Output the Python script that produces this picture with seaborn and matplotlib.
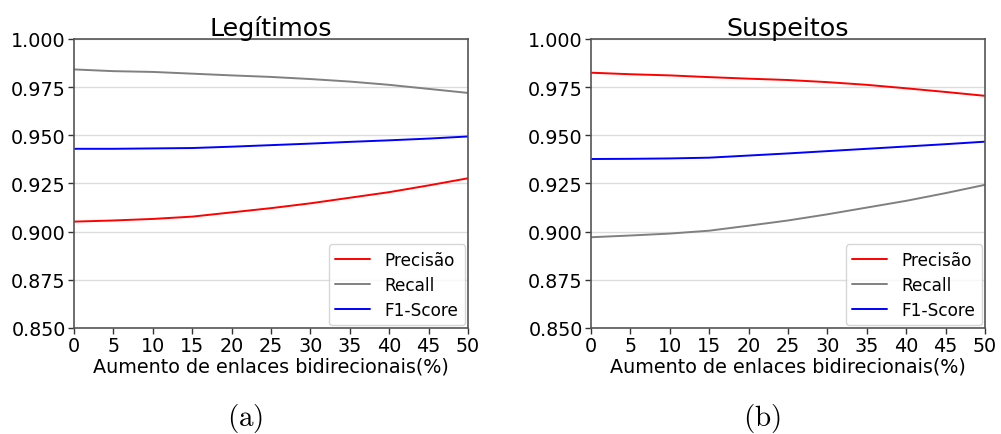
import matplotlib
matplotlib.use("Agg")
import matplotlib.pyplot as plt
import seaborn as sns
import pandas as pd

# Percentage increase of bidirectional links
aumento = [0, 5, 10, 15, 20, 25, 30, 35, 40, 45, 50]

# Legítimos
leg_precisao = [0.9052, 0.9058, 0.9066, 0.9078, 0.9100, 0.9122, 0.9147, 0.9176, 0.9205, 0.9240, 0.9277]
leg_recall = [0.9842, 0.9833, 0.9829, 0.9820, 0.9811, 0.9803, 0.9792, 0.9779, 0.9762, 0.9741, 0.9720]
leg_f1 = [0.9430, 0.9430, 0.9432, 0.9434, 0.9441, 0.9449, 0.9457, 0.9466, 0.9474, 0.9483, 0.9494]

# Suspeitos
sus_precisao = [0.9825, 0.9817, 0.9811, 0.9802, 0.9794, 0.9787, 0.9776, 0.9762, 0.9744, 0.9725, 0.9705]
sus_recall = [0.8971, 0.8980, 0.8990, 0.9005, 0.9031, 0.9058, 0.9090, 0.9125, 0.9160, 0.9200, 0.9243]
sus_f1 = [0.9377, 0.9378, 0.9380, 0.9384, 0.9395, 0.9406, 0.9418, 0.9430, 0.9442, 0.9454, 0.9467]

metricas = ["Precisão", "Recall", "F1-Score"]
cores = {"Precisão": "#ff0000", "Recall": "#808080", "F1-Score": "#0000ff"}
y_ticks = [0.850, 0.875, 0.900, 0.925, 0.950, 0.975, 1.000]
x_ticks = aumento

sns.set_style("whitegrid")
plt.rcParams["font.family"] = ["DejaVu Sans"]
plt.rcParams["mathtext.fontset"] = "cm"
plt.rcParams["text.color"] = "black"
plt.rcParams["axes.labelcolor"] = "black"
plt.rcParams["xtick.color"] = "black"
plt.rcParams["ytick.color"] = "black"


def long_form(prec, rec, f1):
    rows = []
    for nome, vals in zip(metricas, [prec, rec, f1]):
        for x, v in zip(aumento, vals):
            rows.append({"aumento": x, "valor": v, "metrica": nome})
    return pd.DataFrame(rows)


fig = plt.figure(figsize=(10.01, 4.35), dpi=100)
ax1 = fig.add_axes([0.0739, 0.2437, 0.3936, 0.6644])
ax2 = fig.add_axes([0.5904, 0.2437, 0.3936, 0.6644])

paineis = [
    (ax1, "Legítimos", long_form(leg_precisao, leg_recall, leg_f1), "(a)"),
    (ax2, "Suspeitos", long_form(sus_precisao, sus_recall, sus_f1), "(b)"),
]

for ax, titulo, df, rotulo in paineis:
    sns.lineplot(data=df, x="aumento", y="valor", hue="metrica", hue_order=metricas,
                 palette=cores, linewidth=1.4, ax=ax)
    ax.set_xlim(0, 50)
    ax.set_ylim(0.85, 1.0)
    ax.set_xticks(x_ticks)
    ax.set_yticks(y_ticks)
    ax.set_yticklabels([f"{t:.3f}" for t in y_ticks])
    ax.tick_params(axis="both", labelsize=13.8, length=4, width=1, color="#333333",
                   pad=2, direction="out", left=True, bottom=True, labelcolor="black")
    ax.grid(axis="x", visible=False)
    ax.grid(axis="y", color="#dddddd", linewidth=1)
    for s in ax.spines.values():
        s.set_color("#555555")
        s.set_linewidth(1.2)
    ax.set_title(titulo, fontsize=18.3, pad=3, color="black")
    ax.set_xlabel("Aumento de enlaces bidirecionais(%)", fontsize=13.8, labelpad=1)
    ax.set_ylabel("")
    leg = ax.legend(loc="lower right", fontsize=12.2, handlelength=2.07, handletextpad=0.85,
                    borderpad=0.4, labelspacing=0.4, frameon=True, fancybox=True,
                    borderaxespad=0.15)
    leg.get_frame().set_edgecolor("#cccccc")
    for line in leg.get_lines():
        line.set_linewidth(1.4)
    for t in leg.get_texts():
        t.set_color("black")
    bbox = ax.get_position()
    fig.text(bbox.x0 + bbox.width / 2 - 0.026, 0.0, r"$\mathrm{" + rotulo + "}$",
             fontsize=21, ha="center", va="bottom")

fig.savefig("out.png", dpi=100)
